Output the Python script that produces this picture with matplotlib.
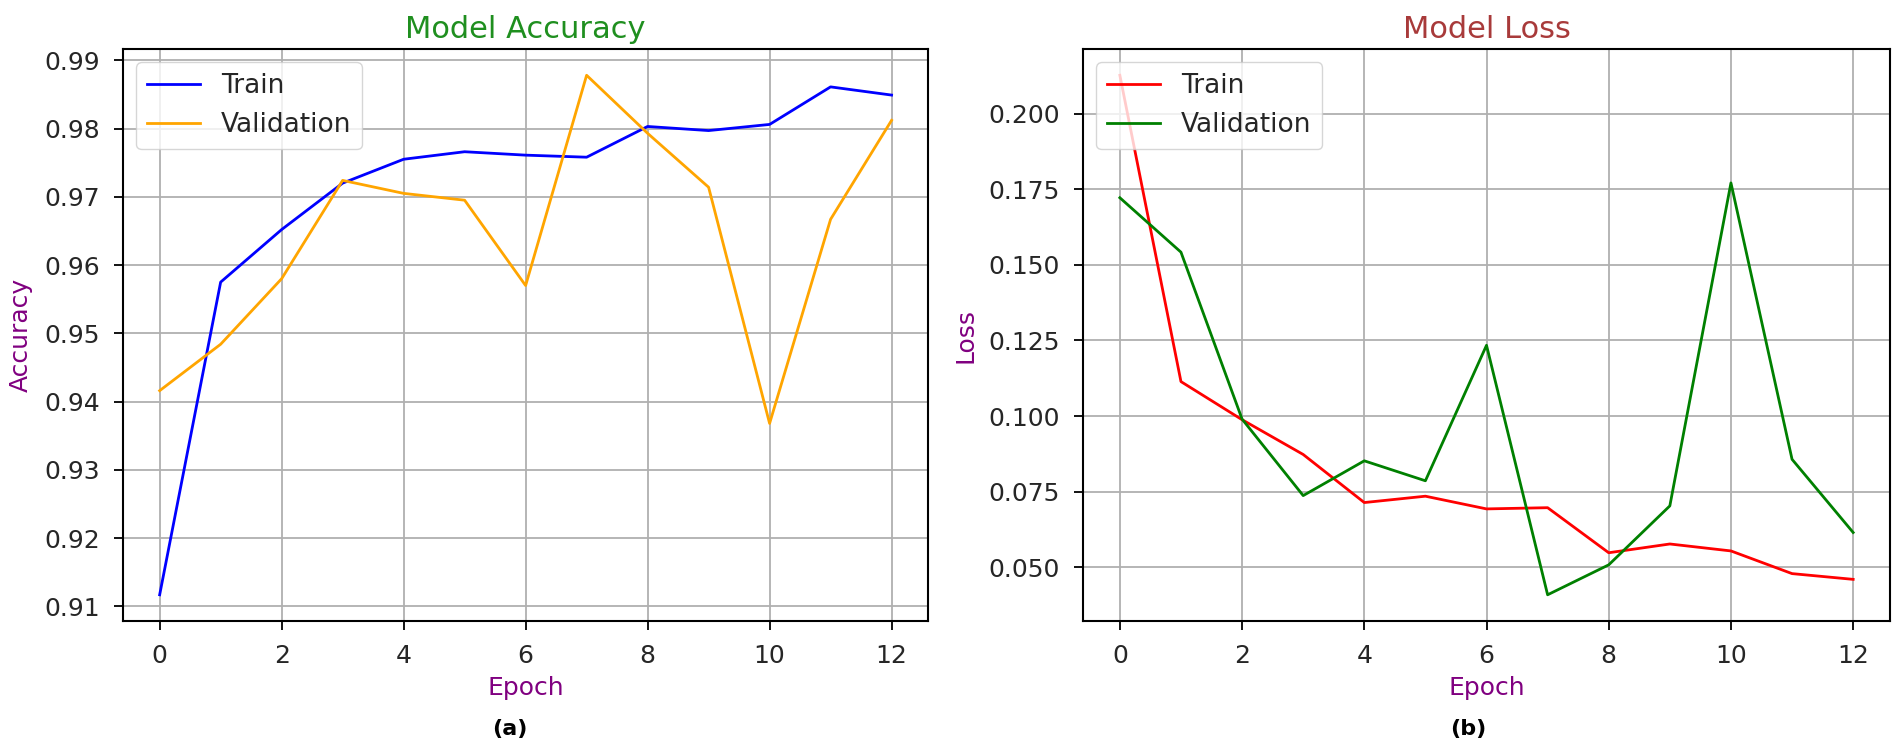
import matplotlib
matplotlib.use('Agg')
import matplotlib.pyplot as plt

# Training history
epochs = list(range(13))
train_acc = [0.9117, 0.9575, 0.9652, 0.9720, 0.9755, 0.9766, 0.9761, 0.9758,
             0.9803, 0.9797, 0.9806, 0.9861, 0.9849]
val_acc = [0.9416, 0.9484, 0.9580, 0.9724, 0.9705, 0.9695, 0.9570, 0.9878,
           0.9793, 0.9714, 0.9368, 0.9667, 0.9812]
train_loss = [0.2127, 0.1114, 0.0988, 0.0873, 0.0714, 0.0735, 0.0693, 0.0697,
              0.0548, 0.0577, 0.0554, 0.0479, 0.0460]
val_loss = [0.1722, 0.1542, 0.0990, 0.0737, 0.0852, 0.0786, 0.1234, 0.0409,
            0.0508, 0.0703, 0.1771, 0.0857, 0.0615]

tick_fs = 18
label_fs = 18
title_fs = 22
legend_fs = 19
text_col = '#262626'

fig = plt.figure(figsize=(19.02, 7.47), dpi=100)
ax1 = fig.add_axes([0.0647, 0.169, 0.4233, 0.765])
ax2 = fig.add_axes([0.5695, 0.169, 0.4241, 0.765])

# Accuracy
ax1.plot(epochs, train_acc, color='blue', linewidth=2, label='Train')
ax1.plot(epochs, val_acc, color='orange', linewidth=2, label='Validation')
ax1.set_title('Model Accuracy', color='#1f8f1f', fontsize=title_fs, pad=8)
ax1.set_xlabel('Epoch', color='purple', fontsize=label_fs, labelpad=6)
ax1.set_ylabel('Accuracy', color='purple', fontsize=label_fs, labelpad=8)

# Loss
ax2.plot(epochs, train_loss, color='red', linewidth=2, label='Train')
ax2.plot(epochs, val_loss, color='green', linewidth=2, label='Validation')
ax2.set_title('Model Loss', color='#a83a3a', fontsize=title_fs, pad=8)
ax2.set_xlabel('Epoch', color='purple', fontsize=label_fs, labelpad=6)
ax2.set_ylabel('Loss', color='purple', fontsize=label_fs, labelpad=8)

for ax in (ax1, ax2):
    ax.grid(True, linewidth=1.3)
    ax.set_xticks(range(0, 13, 2))
    ax.tick_params(labelsize=tick_fs, labelcolor=text_col, length=6.7,
                   width=1.3, pad=10)
    for s in ax.spines.values():
        s.set_linewidth(1.5)
    leg = ax.legend(loc='upper left', fontsize=legend_fs)
    for t in leg.get_texts():
        t.set_color(text_col)

fig.text(0.268, 0.024, '(a)', fontsize=16, fontweight='bold', ha='center', va='center')
fig.text(0.772, 0.024, '(b)', fontsize=16, fontweight='bold', ha='center', va='center')

fig.savefig('out.png', dpi=100)
